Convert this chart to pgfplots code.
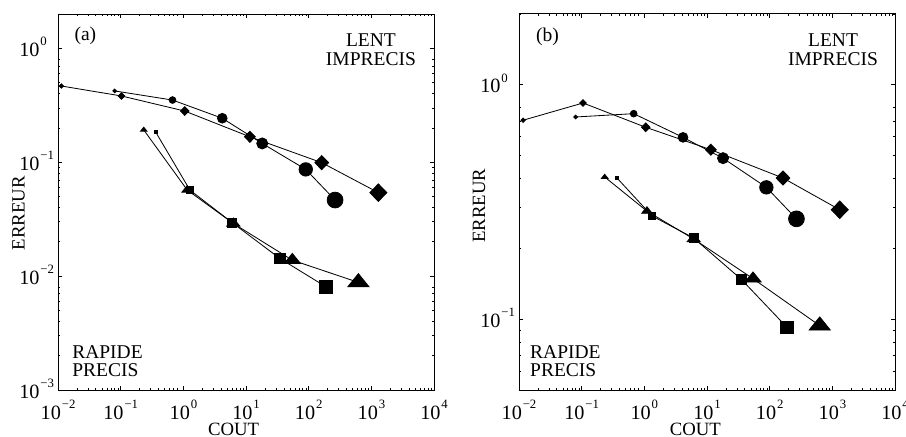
\documentclass[border=0pt]{standalone}
\usepackage{fontspec}
\setmainfont{Liberation Serif}
\usepackage{pgfplots}
\pgfplotsset{compat=1.18}

% 10 with a raised exponent, set in the text font
\newcommand{\pw}[1]{10\hspace{0.6pt}\raisebox{7.2pt}{\fontsize{8.5}{9}\selectfont #1}}

\pgfplotsset{
  every axis/.append style={
    scale only axis,
    width=250.7pt, height=250.7pt,
    xmin=1e-2, xmax=1e4, ymax=2,
    xtick={1e-2,1e-1,1,1e1,1e2,1e3,1e4},
    xticklabels={\pw{−2},\pw{−1},\pw{0},\pw{1},\pw{2},\pw{3},\pw{4}},
    minor xtick={0.02,0.03,...,0.09,0.2,0.3,...,0.9,2,3,...,9,20,30,...,90,200,300,...,900,2000,3000,...,9000},
    major tick length=2.7pt, minor tick length=1.4pt,
    tick style={black, line width=0.4pt},
    axis line style={line width=0.6pt},
    tick label style={font=\fontsize{13.5}{15}\selectfont},
    xticklabel style={anchor=base, yshift=-19.5pt, inner sep=0pt},
    yticklabel style={anchor=base west, xshift=-26pt, yshift=-5.6pt, inner sep=0pt},
    label style={font=\fontsize{12.5}{14}\selectfont, inner sep=0pt},
    xlabel=COUT, ylabel=ERREUR,
  },
  myser/.style={black, line width=0.55pt, scatter,
    scatter/use mapped color={draw=black, fill=black},
    visualization depends on={\thisrow{s} \as \ms},
    scatter/@pre marker code/.append style={/tikz/mark size=1.12*\ms}},
}

\begin{document}
\begin{tikzpicture}
\path[use as bounding box] (-38.7pt,-31.3pt) rectangle (565.3pt,260pt);

% ---------- (a) ----------
\begin{loglogaxis}[at={(0,0)}, anchor=south west,
  ymin=1e-3, ytick={1e-3,1e-2,1e-1,1},
  yticklabels={\pw{−3},\pw{−2},\pw{−1},\pw{0}},
  minor ytick={0.002,0.003,...,0.009,0.02,0.03,...,0.09,0.2,0.3,...,0.9,2},
  xlabel style={at={(axis description cs:0.467,-0.106)}, anchor=center},
  ylabel style={at={(axis description cs:-0.105,0.47)}, anchor=center}]
\addplot[myser, mark=diamond*, mark options={xscale=1.3}] table {
x y s
0.0113 0.466 1.3
0.103 0.381 2.0
1.05 0.281 2.6
11.5 0.167 3.3
161 0.099 4.2
1290 0.054 5.2
};
\addplot[myser, mark=*] table {
x y s
0.080 0.422 1.1
0.67 0.351 2.0
4.17 0.243 2.9
18.1 0.146 3.3
89.6 0.0864 4.0
263 0.0465 4.7
};
\addplot[myser, mark=triangle*, mark options={xscale=1.4}] table {
x y s
0.233 0.192 1.6
1.15 0.0570 2.6
6.25 0.0290 3.2
54.7 0.0138 4.0
620 0.0088 5.2
};
\addplot[myser, mark=square*] table {
x y s
0.359 0.185 0.9
1.27 0.0569 2.2
6.03 0.0294 2.7
34.7 0.01426 3.0
189 0.00804 3.7
};
\node[anchor=west, font=\fontsize{13}{15}\selectfont, inner sep=0pt]
  at (axis description cs:0.043,0.943) {(a)};
\node[align=center, font=\fontsize{13}{12.3}\selectfont, inner sep=0pt]
  at (axis description cs:0.832,0.905) {LENT\\IMPRECIS};
\node[align=left, anchor=west, font=\fontsize{13}{12.3}\selectfont, inner sep=0pt]
  at (axis description cs:0.037,0.077) {RAPIDE\\PRECIS};
\end{loglogaxis}

% ---------- (b) ----------
\begin{loglogaxis}[at={(307.3pt,0)}, anchor=south west,
  ymin=0.05, ytick={0.1,1},
  yticklabels={\pw{−1},\pw{0}},
  minor ytick={0.06,0.07,0.08,0.09,0.2,0.3,...,0.9,2},
  xlabel style={at={(axis description cs:0.469,-0.106)}, anchor=center},
  ylabel style={at={(axis description cs:-0.106,0.49)}, anchor=center}]
\addplot[myser, mark=diamond*, mark options={xscale=1.3}] table {
x y s
0.0116 0.705 1.3
0.105 0.835 2.0
1.05 0.658 2.6
11.5 0.528 3.3
163 0.400 4.2
1310 0.293 5.2
};
\addplot[myser, mark=*] table {
x y s
0.080 0.728 1.1
0.676 0.752 2.0
4.14 0.596 2.9
18.0 0.486 3.3
88.5 0.365 4.0
267 0.268 4.7
};
\addplot[myser, mark=triangle*, mark options={xscale=1.4}] table {
x y s
0.233 0.404 1.6
1.10 0.289 2.6
6.12 0.220 3.2
54.2 0.149 4.0
628 0.0940 5.2
};
\addplot[myser, mark=square*] table {
x y s
0.366 0.400 0.9
1.32 0.276 2.2
6.12 0.222 2.7
35.3 0.148 3.0
189 0.0924 3.7
};
\node[anchor=west, font=\fontsize{13}{15}\selectfont, inner sep=0pt]
  at (axis description cs:0.045,0.94) {(b)};
\node[align=center, font=\fontsize{13}{12.3}\selectfont, inner sep=0pt]
  at (axis description cs:0.835,0.905) {LENT\\IMPRECIS};
\node[align=left, anchor=west, font=\fontsize{13}{12.3}\selectfont, inner sep=0pt]
  at (axis description cs:0.029,0.077) {RAPIDE\\PRECIS};
\end{loglogaxis}
\end{tikzpicture}
\end{document}
